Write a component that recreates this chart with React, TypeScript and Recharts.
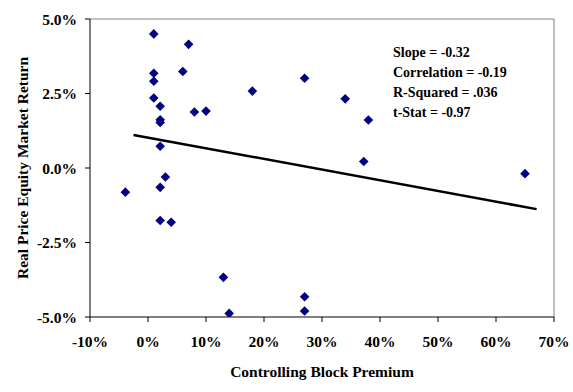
import React from 'react';
import { ScatterChart, Scatter, XAxis, YAxis, ReferenceLine } from 'recharts';

const premiumX = [1, 7, 1, 1, 6, 18, 1, 2.1, 8, 10, 2.1, 2.1, 2.1, 3, 2.1, -3.9, 27, 34, 38, 37.2, 65, 2.1, 4, 13, 14, 27, 27];
const returnY = [4.5, 4.15, 3.18, 2.91, 3.24, 2.58, 2.35, 2.07, 1.88, 1.91, 1.62, 1.53, 0.73, -0.3, -0.65, -0.81, 3.01, 2.32, 1.61, 0.22, -0.19, -1.76, -1.82, -3.67, -4.88, -4.32, -4.8];
const trendX = [-2.5, 67];
const trendY = [1.11, -1.38];
const xTicks = [-10, 0, 10, 20, 30, 40, 50, 60, 70];
const yTicks = [-5, -2.5, 0, 2.5, 5];
const statLines = ['Slope = -0.32', 'Correlation = -0.19', 'R-Squared = .036', 't-Stat = -0.97'];

const points = premiumX.map((x, i) => ({ x, y: returnY[i] }));
const trend = trendX.map((x, i) => ({ x, y: trendY[i] }));

const FONT = '"Liberation Serif", "Times New Roman", serif';

const Diamond = (props: any) => {
  const { cx, cy } = props;
  if (cx == null || cy == null) return null;
  const r = 4.8;
  return <polygon points={`${cx},${cy - r} ${cx + r},${cy} ${cx},${cy + r} ${cx - r},${cy}`} fill="#000080" />;
};

const NoShape = () => null;

export default function App() {
  const tickStyle = { fontFamily: FONT, fontSize: 15.5, fontWeight: 'bold', fill: '#000' };
  return (
    <div style={{ position: 'absolute', left: 0, top: 0, width: 573, height: 392, background: '#fff' }}>
      <ScatterChart width={573} height={392} margin={{ top: 19, right: 19, bottom: 0, left: 0 }}>
        <XAxis
          type="number"
          dataKey="x"
          domain={[-10, 70]}
          ticks={xTicks}
          tickFormatter={(v: number) => `${v}%`}
          stroke="#000"
          tickLine={{ stroke: '#000' }}
          tickSize={5}
          tickMargin={14}
          height={75}
          tick={tickStyle}
          allowDataOverflow
          label={{ value: 'Controlling Block Premium', position: 'insideBottom', offset: 15, style: { ...tickStyle, fontSize: 15.5 } }}
        />
        <YAxis
          type="number"
          dataKey="y"
          domain={[-5, 5]}
          ticks={yTicks}
          tickFormatter={(v: number) => `${v.toFixed(1)}%`}
          stroke="#000"
          tickSize={5}
          tickMargin={8}
          width={90}
          tick={tickStyle}
          allowDataOverflow
          label={{ value: 'Real Price Equity Market Return', angle: -90, position: 'insideLeft', offset: 22, style: { ...tickStyle, textAnchor: 'middle' } }}
        />
        <ReferenceLine y={5} stroke="#808080" strokeWidth={1} />
        <ReferenceLine x={70} stroke="#808080" strokeWidth={1} />
        <Scatter data={trend} line={{ stroke: '#000', strokeWidth: 2.5 }} shape={NoShape} isAnimationActive={false} />
        <Scatter data={points} shape={Diamond} isAnimationActive={false} />
      </ScatterChart>
      <div style={{ position: 'absolute', left: 393, top: 43, fontFamily: FONT, fontSize: 14, fontWeight: 'bold', lineHeight: '20px', color: '#000' }}>
        {statLines.map((s) => (
          <div key={s}>{s}</div>
        ))}
      </div>
    </div>
  );
}
